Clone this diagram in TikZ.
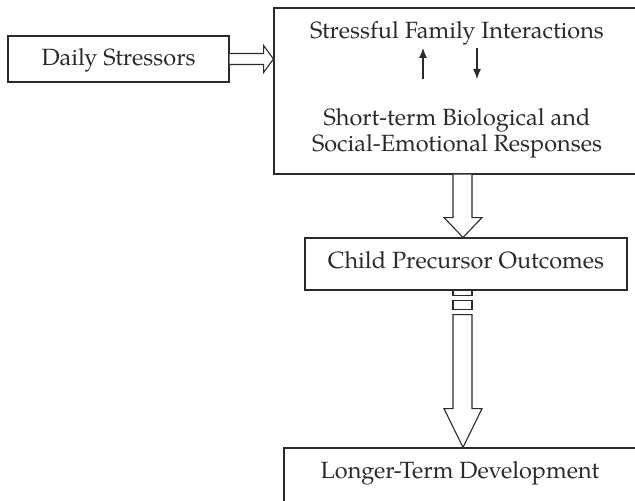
\documentclass[tikz,border=0pt]{standalone}
\usepackage{fontspec}
\setmainfont{TeX Gyre Pagella}
\usetikzlibrary{arrows.meta,calc}
\definecolor{ink}{HTML}{2A2A2A}
\tikzset{
  box/.style={draw=ink, line width=1.2pt, rectangle, inner sep=0pt},
  lbl/.style={text=ink, font=\fontsize{23.5}{28}\selectfont, inner sep=0pt, anchor=base},
  hollow/.style={draw=ink, line width=1.1pt, fill=white, line join=miter},
  thin/.style={draw=ink, line width=1.2pt, -{Latex[length=10pt,width=8pt]}}
}
\begin{document}
\begin{tikzpicture}[x=1pt,y=1pt]
\useasboundingbox (0,0) rectangle (635,501);
\clip (0,0) rectangle (635,501);
% boxes
\node[box, minimum width=221pt, minimum height=46pt] (daily) at (118.5,442) {};
\node[lbl] (dailyt) at (118.5,435) {Daily Stressors};
\node[box, minimum width=366pt, minimum height=166pt] (big) at (457,410) {};
\node[lbl] (sfi) at (457,462) {Stressful Family Interactions};
\node[lbl] (stb) at (457,375) {Short-term Biological and};
\node[lbl] (ser) at (457,349) {Social-Emotional Responses};
\node[box, minimum width=322pt, minimum height=52pt] (child) at (466,237) {};
\node[lbl] (childt) at (466,232) {Child Precursor Outcomes};
\node[box, minimum width=352pt, minimum height=100pt] (longer) at (460,3) {};
\node[lbl] (longert) at (460,23) {Longer-Term Development};
% small arrows inside big box
\coordinate (ua) at (423,422);
\coordinate (ub) at (423,453);
\coordinate (da) at (477,453);
\coordinate (db) at (477,422);
\draw[thin] (ua) -- (ub);
\draw[thin] (da) -- (db);
% hollow arrow: daily -> big
\draw[hollow] ($(daily.east)+(0,5.5)$) -- ($(daily.east)+(34,5.5)$) -- ($(daily.east)+(34,13.5)$)
  -- (daily.east -| big.west) -- ($(daily.east)+(34,-13.5)$) -- ($(daily.east)+(34,-5.5)$)
  -- ($(daily.east)+(0,-5.5)$);
% hollow arrow: big -> child
\draw[hollow] ($(big.south)+(-4,0)$) -- ($(big.south)+(-4,-43)$) -- ($(big.south)+(-13,-43)$)
  -- ($(child.north)+(-3,0)$) -- ($(big.south)+(25,-43)$) -- ($(big.south)+(15,-43)$)
  -- ($(big.south)+(15,0)$);
% broken hollow arrow: child -> longer
\draw[hollow] ($(child.south)+(-13,0)$) -- ($(child.south)+(-13,-5)$) -- ($(child.south)+(6,-5)$) -- ($(child.south)+(6,0)$);
\draw[hollow] ($(child.south)+(-13,-10)$) rectangle ($(child.south)+(6,-19)$);
\draw[hollow] ($(child.south)+(-13,-24)$) -- ($(child.south)+(-13,-118)$) -- ($(child.south)+(-22,-118)$)
  -- ($(longer.north)+(3,0)$) -- ($(child.south)+(16,-118)$) -- ($(child.south)+(6,-118)$)
  -- ($(child.south)+(6,-24)$) -- cycle;
\end{tikzpicture}
\end{document}
